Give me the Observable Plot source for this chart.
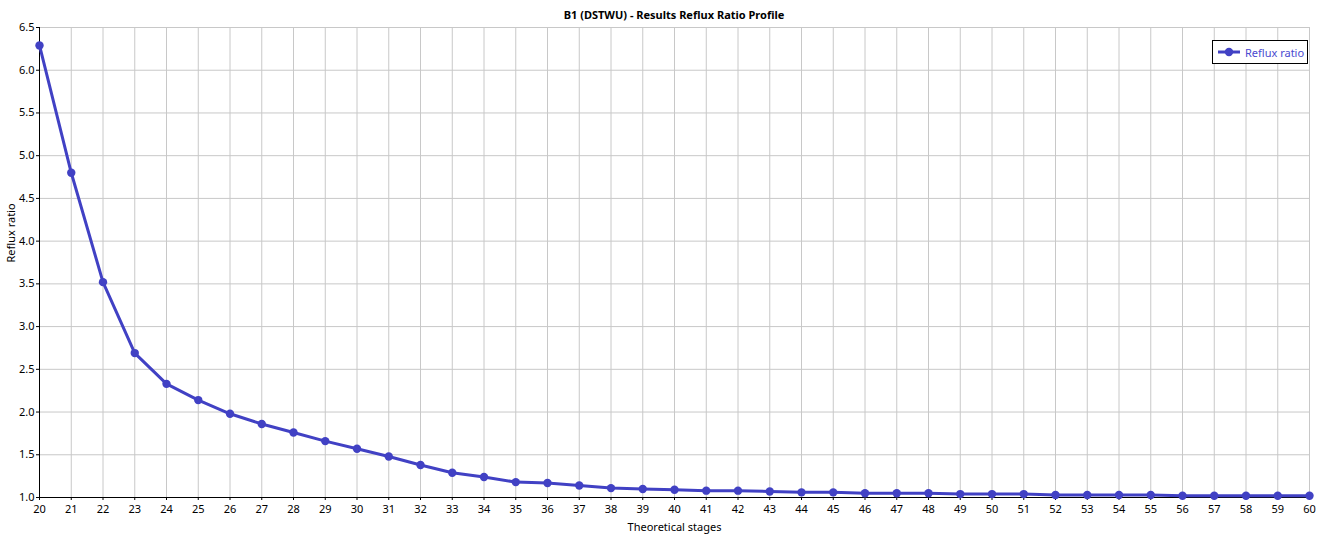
<!DOCTYPE html>
<html>
<head>
<meta charset="utf-8">
<script src="https://cdn.jsdelivr.net/npm/d3@7"></script>
<script src="https://cdn.jsdelivr.net/npm/@observablehq/plot@0.6"></script>
<style>
  body { margin: 0; background: #fff; font-family: "Noto Sans", sans-serif; }
  #wrap { position: relative; width: 1323px; height: 542px; }
  #title { position: absolute; left: 0; top: 7px; width: 1348px; text-align: center;
           font-size: 11px; font-weight: bold; color: #000; }
  #legend { position: absolute; left: 1212px; top: 40px; width: 94px; height: 22px;
            border: 1px solid #000; background: #fff; display: flex; align-items: center;
            font-size: 11px; color: #4a4ad0; }
  #legend svg { margin: 0 5px 0 5px; }
</style>
</head>
<body>
<div id="wrap">
  <div id="chart"></div>
  <div id="title">B1 (DSTWU) - Results Reflux Ratio Profile</div>
  <div id="legend">
    <svg width="22" height="10"><line x1="0" y1="5" x2="22" y2="5" stroke="#4141c4" stroke-width="3"/><circle cx="11" cy="5" r="4.2" fill="#4141c4"/></svg>
    <span>Reflux ratio</span>
  </div>
</div>
<script>
// Theoretical stages vs. reflux ratio
const stages = [20, 21, 22, 23, 24, 25, 26, 27, 28, 29, 30, 31, 32, 33, 34, 35, 36, 37, 38, 39, 40,
                41, 42, 43, 44, 45, 46, 47, 48, 49, 50, 51, 52, 53, 54, 55, 56, 57, 58, 59, 60]
const reflux = [6.29, 4.80, 3.52, 2.69, 2.33, 2.14, 1.98, 1.86, 1.76, 1.66, 1.57, 1.48, 1.38, 1.29, 1.24, 1.18, 1.17, 1.14, 1.11, 1.10, 1.09,
                1.08, 1.08, 1.07, 1.06, 1.06, 1.05, 1.05, 1.05, 1.04, 1.04, 1.04, 1.03, 1.03, 1.03, 1.03, 1.02, 1.02, 1.02, 1.02, 1.02]
const yTicks = [1.0, 1.5, 2.0, 2.5, 3.0, 3.5, 4.0, 4.5, 5.0, 5.5, 6.0, 6.5]

const data = stages.map((s, i) => ({ stage: s, ratio: reflux[i] }))

const lineColor = "#4141c4"
const gridColor = "#c8c8c8"

let chart = Plot.plot({
    width: 1323,
    height: 542,
    marginTop: 27,
    marginBottom: 45,
    marginLeft: 39,
    marginRight: 14,
    style: { fontFamily: "Noto Sans, sans-serif", fontSize: "11px", color: "#000", background: "#fff" },
    x: { domain: [20, 60] },
    y: { domain: [1.0, 6.5] },
    marks: [
        Plot.gridX(stages, { stroke: gridColor, strokeOpacity: 1 }),
        Plot.gridY(yTicks, { stroke: gridColor, strokeOpacity: 1 }),
        Plot.axisX(stages, { tickSize: 3, tickPadding: 5, tickFormat: d => d, label: null }),
        Plot.axisY(yTicks, { tickSize: 3, tickPadding: 2, tickFormat: d => d.toFixed(1), label: null }),
        Plot.ruleX([20], { stroke: "#000" }),
        Plot.ruleY([1.0], { stroke: "#000" }),
        Plot.text(["Theoretical stages"], { frameAnchor: "bottom", dy: 33, fontSize: 11 }),
        Plot.text(["Reflux ratio"], { frameAnchor: "left", dx: -28, rotate: -90, fontSize: 11 }),
        Plot.line(data, { x: "stage", y: "ratio", stroke: lineColor, strokeWidth: 3 }),
        Plot.dot(data, { x: "stage", y: "ratio", fill: lineColor, r: 4.2 })
    ]
})

d3.select('#chart').append(() => chart)
</script>
</body>
</html>
